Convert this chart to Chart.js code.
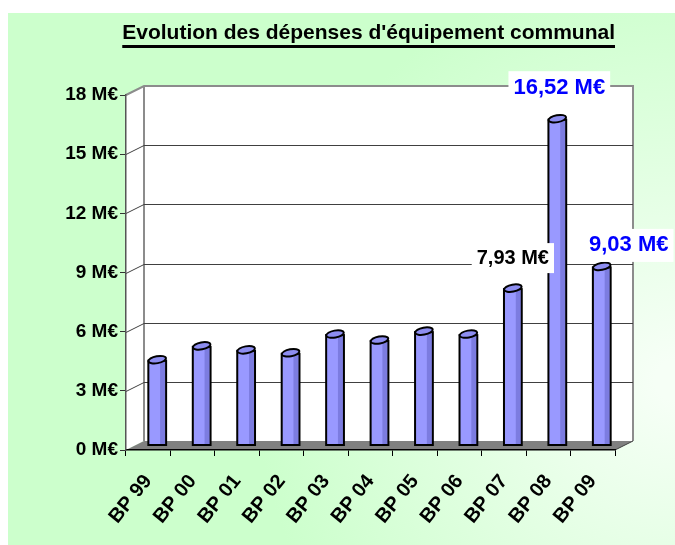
<!DOCTYPE html>
<html lang="fr">
<head>
    <meta charset="UTF-8">
    <title>Evolution des dépenses d'équipement communal</title>
    <style>
        html, body { margin: 0; padding: 0; background: #fff; }
        canvas { display: block; }
    </style>
</head>
<body>
    <canvas id="chart" width="675" height="545"></canvas>

    <script src="https://cdn.jsdelivr.net/npm/chart.js@4.4.1/dist/chart.umd.min.js"></script>

    <script>
        const categories = ['BP 99', 'BP 00', 'BP 01', 'BP 02', 'BP 03', 'BP 04', 'BP 05', 'BP 06', 'BP 07', 'BP 08', 'BP 09'];
        const depenses = [4.3, 5.0, 4.8, 4.65, 5.6, 5.3, 5.75, 5.6, 7.93, 16.52, 9.03];
        const yTicks = [0, 3, 6, 9, 12, 15, 18];
        const labelledBars = [8, 9, 10];
        const titleText = "Evolution des dépenses d'équipement communal";

        // 3D look: depth of the box
        const DX = 18, DY = 9;
        const FONT = 'Liberation Sans, Arial, sans-serif';
        const TITLE_SIZE = 21;

        // value labels: offsets from the bar top, colour and size
        const labelStyle = {
            8: { dx: 0, dy: -31, color: '#000', size: 20 },
            9: { dx: 2, dy: -32, color: '#0000ff', size: 22 },
            10: { dx: 27, dy: -22, color: '#0000ff', size: 22 }
        };

        const fmt = v => v.toFixed(2).replace('.', ',') + ' M€';

        const boxPlugin = {
            id: 'box3d',
            beforeDraw(chart) {
                const ctx = chart.ctx;
                const { left, right, top, bottom } = chart.chartArea;
                const y = chart.scales.y;

                // page background
                ctx.save();
                ctx.fillStyle = '#fff';
                ctx.fillRect(0, 0, chart.width, chart.height);
                const g = ctx.createRadialGradient(675, 380, 20, 675, 380, 420);
                g.addColorStop(0, '#f6fff6');
                g.addColorStop(1, '#ccffcc');
                ctx.fillStyle = g;
                ctx.fillRect(8, 13, chart.width - 8, chart.height - 13);

                // walls
                ctx.fillStyle = '#fff';
                ctx.fillRect(left + DX, top - DY, right - left, bottom - top);
                ctx.beginPath();
                ctx.moveTo(left, top);
                ctx.lineTo(left + DX, top - DY);
                ctx.lineTo(left + DX, bottom - DY);
                ctx.lineTo(left, bottom);
                ctx.closePath();
                ctx.fill();

                ctx.strokeStyle = '#8c8c8c';
                ctx.lineWidth = 2;
                ctx.beginPath();
                ctx.moveTo(left, top);
                ctx.lineTo(left + DX, top - DY);
                ctx.lineTo(right + DX, top - DY);
                ctx.lineTo(right + DX, bottom - DY);
                ctx.moveTo(left + DX, top - DY);
                ctx.lineTo(left + DX, bottom - DY);
                ctx.stroke();

                // grid lines on side and back wall
                ctx.strokeStyle = '#404040';
                ctx.lineWidth = 1;
                yTicks.forEach(v => {
                    if (v === 0 || v === yTicks[yTicks.length - 1]) return;
                    const py = Math.round(y.getPixelForValue(v)) + 0.5;
                    ctx.beginPath();
                    ctx.moveTo(left, py);
                    ctx.lineTo(left + DX, py - DY);
                    ctx.lineTo(right + DX, py - DY);
                    ctx.stroke();
                });

                // floor
                ctx.fillStyle = '#808080';
                ctx.beginPath();
                ctx.moveTo(left, bottom);
                ctx.lineTo(left + DX, bottom - DY);
                ctx.lineTo(right + DX, bottom - DY);
                ctx.lineTo(right, bottom);
                ctx.closePath();
                ctx.fill();
                ctx.strokeStyle = '#404040';
                ctx.beginPath();
                ctx.moveTo(right, bottom);
                ctx.lineTo(right + DX, bottom - DY);
                ctx.stroke();
                ctx.restore();
            },
            beforeDatasetsDraw(chart) {
                chart.ctx.save();
                chart.ctx.translate(DX / 2, -DY / 2);
            },
            afterDatasetsDraw(chart) {
                const ctx = chart.ctx;
                chart.getDatasetMeta(0).data.forEach(bar => {
                    const w = bar.width;
                    const l = bar.x - w / 2, r = bar.x + w / 2;
                    // darker right face
                    ctx.fillStyle = '#7c7ce0';
                    ctx.fillRect(r - 6, bar.y, 5, bar.base - bar.y - 1);
                    ctx.strokeStyle = '#000';
                    ctx.lineWidth = 2;
                    ctx.strokeRect(l, bar.y, w, bar.base - bar.y);
                    // top cap
                    ctx.beginPath();
                    ctx.ellipse(bar.x, bar.y - 1, w / 2, 3.5, -0.18, 0, Math.PI * 2);
                    ctx.fillStyle = '#8d8df0';
                    ctx.fill();
                    ctx.stroke();
                });
                ctx.restore();
            },
            afterDraw(chart) {
                const ctx = chart.ctx;
                const meta = chart.getDatasetMeta(0);

                // value labels with white boxes
                labelledBars.forEach(i => {
                    const bar = meta.data[i];
                    const s = labelStyle[i];
                    const text = fmt(depenses[i]);
                    const cx = bar.x + DX / 2 + s.dx;
                    const cy = bar.y - DY / 2 + s.dy;
                    ctx.save();
                    ctx.font = `bold ${s.size}px ${FONT}`;
                    const tw = ctx.measureText(text).width;
                    ctx.fillStyle = '#fff';
                    ctx.fillRect(cx - tw / 2 - 5, cy - s.size * 0.75, tw + 10, s.size * 1.5);
                    ctx.fillStyle = s.color;
                    ctx.textAlign = 'center';
                    ctx.textBaseline = 'middle';
                    ctx.fillText(text, cx, cy);
                    ctx.restore();
                });

                // underline the title (title is right-aligned in its block)
                const tb = chart.titleBlock;
                if (tb) {
                    ctx.save();
                    ctx.font = `bold ${TITLE_SIZE}px ${FONT}`;
                    const tw = ctx.measureText(titleText).width;
                    ctx.fillStyle = '#000';
                    ctx.fillRect(tb.right - tw, 45, tw, 3);
                    ctx.restore();
                }
            }
        };

        new Chart(document.getElementById('chart'), {
            type: 'bar',
            data: {
                labels: categories,
                datasets: [{
                    data: depenses,
                    backgroundColor: '#9999ff',
                    borderColor: '#000',
                    borderWidth: 0,
                    barPercentage: 0.4,
                    categoryPercentage: 1
                }]
            },
            options: {
                responsive: false,
                animation: false,
                devicePixelRatio: 1,
                layout: { padding: { left: 0, right: 60, top: 0, bottom: 0 } },
                plugins: {
                    legend: { display: false },
                    tooltip: { enabled: false },
                    title: {
                        display: true,
                        align: 'end',
                        text: titleText,
                        color: '#000',
                        font: { family: FONT, size: TITLE_SIZE, weight: 'bold' },
                        padding: { top: 21, bottom: 48.8 }
                    }
                },
                scales: {
                    x: {
                        afterFit: s => { s.height = 95; },
                        border: { color: '#000', width: 1.5 },
                        grid: { drawOnChartArea: false, color: '#000', tickLength: 6 },
                        ticks: {
                            color: '#000',
                            minRotation: 51,
                            maxRotation: 51,
                            padding: 14,
                            font: { family: FONT, size: 20, weight: 'bold' }
                        }
                    },
                    y: {
                        min: 0,
                        max: 18,
                        afterFit: s => { s.width = 126; },
                        afterBuildTicks: s => { s.ticks = yTicks.map(v => ({ value: v })); },
                        border: { color: '#555', width: 1.5 },
                        grid: { drawOnChartArea: false, color: '#333', tickLength: 6 },
                        ticks: {
                            color: '#000',
                            padding: 2,
                            font: { family: FONT, size: 19, weight: 'bold' },
                            callback: v => v + ' M€'
                        }
                    }
                }
            },
            plugins: [boxPlugin]
        });
    </script>
</body>
</html>
